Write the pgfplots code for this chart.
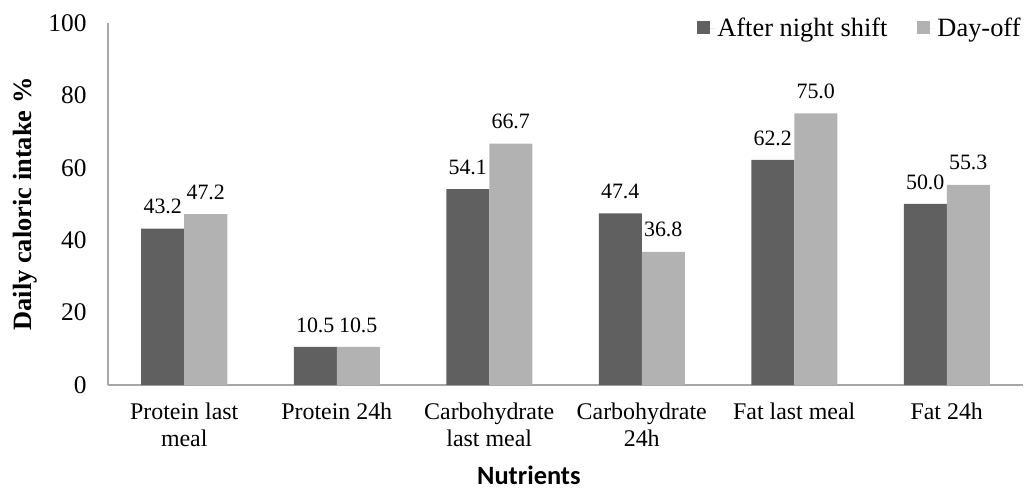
\documentclass[border=0pt]{standalone}
\usepackage{pgfplots}
\pgfplotsset{compat=1.18}
\usepackage{fontspec}
\setmainfont{Liberation Serif}
\newfontfamily\calibri{Carlito}
\definecolor{nightc}{HTML}{606060}
\definecolor{offc}{HTML}{B2B2B2}
\definecolor{axc}{HTML}{A6A6A6}
\begin{document}
\begin{tikzpicture}
\useasboundingbox (-108bp,-104bp) rectangle (927bp,385bp);
\begin{axis}[
at={(0,0)}, anchor=south west,
scale only axis,
width=915bp, height=362bp,
ybar=0pt, bar width=43bp,
xmin=-0.5, xmax=5.5,
ymin=0, ymax=100,
ytick={0,20,40,60,80,100},
xtick=data,
xticklabels={{Protein last\\meal},{Protein 24h},{Carbohydrate\\last meal},{Carbohydrate\\24h},{Fat last meal},{Fat 24h}},
xticklabel style={align=center, font=\fontsize{24}{27.5}\selectfont, yshift=-14bp},
yticklabel style={font=\fontsize{25.5}{28}\selectfont, xshift=-18bp},
/pgf/number format/assume math mode=true,
major tick length=0pt,
axis x line*=bottom, axis y line*=left,
axis line style={axc, line width=1.3pt, -},
ylabel={\textbf{Daily caloric intake \%}},
ylabel style={at={(axis description cs:-0.091,0.5)}, anchor=center, font=\fontsize{26.5}{28}\selectfont},
xlabel={\calibri\bfseries Nutrients},
xlabel style={at={(axis description cs:0.46,-0.249)}, anchor=center, font=\fontsize{26.5}{28}\selectfont},
nodes near coords={\pgfmathprintnumber[fixed, fixed zerofill, precision=1, assume math mode=true]{\pgfplotspointmeta}},
nodes near coords style={font=\fontsize{22}{24}\selectfont, text=black, yshift=11bp},
legend style={at={(1.003,1.025)}, anchor=north east, draw=none, fill=none, legend columns=2, font=\fontsize{26.5}{28}\selectfont, /tikz/every even column/.append style={column sep=28bp}},
legend image code/.code={\fill[#1] (0bp,-6bp) rectangle (13bp,7bp); \path (0bp,0bp) -- (18bp,0bp);},
]
\addplot[fill=nightc, draw=none] coordinates {(0,43.2) (1,10.5) (2,54.1) (3,47.4) (4,62.2) (5,50.0)};
\addplot[fill=offc, draw=none] coordinates {(0,47.2) (1,10.5) (2,66.7) (3,36.8) (4,75.0) (5,55.3)};
\legend{After night shift, Day-off}
\end{axis}
\end{tikzpicture}
\end{document}
